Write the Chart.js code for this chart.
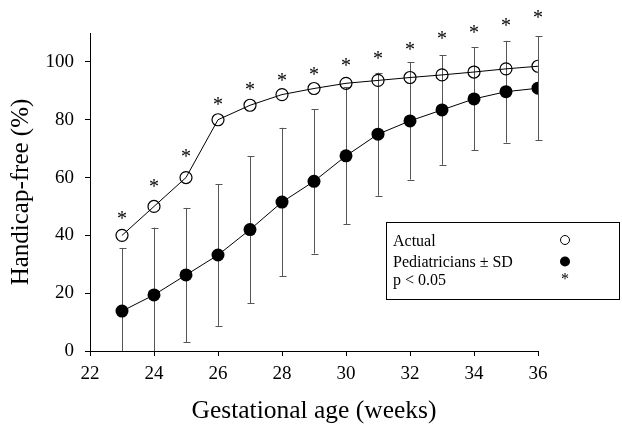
<!DOCTYPE html>
<html>
<head>
<meta charset="utf-8">
<script src="https://cdn.jsdelivr.net/npm/chart.js@4"></script>
<style>
  html, body { margin: 0; padding: 0; background: #fff; }
  #wrap { width: 622px; height: 424px; }
</style>
</head>
<body>
<div id="wrap"><canvas id="myChart"></canvas></div>
<script>
const weeks = [23, 24, 25, 26, 27, 28, 29, 30, 31, 32, 33, 34, 35, 36];
const actual = [40, 50, 60, 80, 85, 88.7, 90.8, 92.6, 93.6, 94.6, 95.5, 96.5, 97.6, 98.5];
const pediatricians = [13.8, 19.4, 26.3, 33.2, 42, 51.5, 58.7, 67.5, 75, 79.6, 83.4, 87.2, 89.7, 90.9];
const pediatriciansSD = [21.7, 23.3, 23.2, 24.5, 25.4, 25.7, 25, 23.7, 21.3, 20.3, 19, 17.8, 17.6, 17.9];
// height of the "*" marks (p < 0.05) above each week
const significance = [47, 58, 68.5, 86.6, 91.7, 94.7, 96.9, 100.1, 102.4, 105.6, 109.3, 111.3, 113.7, 116.4];
const xTicks = [22, 24, 26, 28, 30, 32, 34, 36];
const yTicks = [0, 20, 40, 60, 80, 100];

const serif = "'Liberation Serif', 'Times New Roman', serif";

const errorBars = {
  id: 'errorBars',
  beforeDatasetsDraw(chart) {
    const {ctx, scales: {x, y}} = chart;
    ctx.save();
    ctx.strokeStyle = '#555';
    ctx.lineWidth = 1;
    weeks.forEach((w, i) => {
      const px = Math.round(x.getPixelForValue(w)) + 0.5;
      const hi = y.getPixelForValue(pediatricians[i] + pediatriciansSD[i]);
      const loVal = pediatricians[i] - pediatriciansSD[i];
      const lo = y.getPixelForValue(Math.max(0, loVal));
      ctx.beginPath();
      ctx.moveTo(px, lo);
      ctx.lineTo(px, hi);
      ctx.moveTo(px - 3, Math.round(hi) + 0.5);
      ctx.lineTo(px + 4, Math.round(hi) + 0.5);
      if (loVal > 0) {
        ctx.moveTo(px - 3, Math.round(lo) + 0.5);
        ctx.lineTo(px + 4, Math.round(lo) + 0.5);
      }
      ctx.stroke();
    });
    ctx.restore();
  }
};

// asterisks go above the top of the y axis, so they are drawn here, not as points
const asterisks = {
  id: 'asterisks',
  afterDatasetsDraw(chart) {
    const {ctx, scales: {x, y}} = chart;
    ctx.save();
    ctx.fillStyle = '#000';
    ctx.font = '20px ' + serif;
    ctx.textAlign = 'center';
    ctx.textBaseline = 'alphabetic';
    weeks.forEach((w, i) => {
      ctx.fillText('*', x.getPixelForValue(w), y.getPixelForValue(significance[i]) + 10);
    });
    ctx.restore();
  }
};

const boxLegend = {
  id: 'boxLegend',
  afterDraw(chart) {
    const ctx = chart.ctx;
    ctx.save();
    ctx.fillStyle = '#fff';
    ctx.fillRect(386, 222, 234, 78);
    ctx.strokeStyle = '#000';
    ctx.lineWidth = 1;
    ctx.strokeRect(386.5, 222.5, 233, 77);
    ctx.fillStyle = '#000';
    ctx.font = '16px ' + serif;
    ctx.textAlign = 'left';
    ctx.textBaseline = 'alphabetic';
    ctx.fillText('Actual', 393, 246);
    ctx.fillText('Pediatricians \u00b1 SD', 393, 267);
    ctx.fillText('p < 0.05', 393, 285);
    ctx.beginPath();
    ctx.arc(565, 240, 4.5, 0, Math.PI * 2);
    ctx.stroke();
    ctx.beginPath();
    ctx.arc(565, 261.5, 5, 0, Math.PI * 2);
    ctx.fill();
    ctx.textAlign = 'center';
    ctx.fillText('*', 565, 284);
    ctx.restore();
  }
};

const ctx = document.getElementById('myChart');

new Chart(ctx, {
  type: 'scatter',
  data: {
    datasets: [{
      label: 'Actual',
      data: weeks.map((w, i) => ({x: w, y: actual[i]})),
      showLine: true,
      borderColor: '#000',
      borderWidth: 1,
      pointRadius: 6,
      pointBorderWidth: 1.2,
      pointBorderColor: '#000',
      pointBackgroundColor: 'rgba(0,0,0,0)',
      tension: 0,
    }, {
      label: 'Pediatricians \u00b1 SD',
      data: weeks.map((w, i) => ({x: w, y: pediatricians[i]})),
      showLine: true,
      borderColor: '#000',
      borderWidth: 1,
      pointRadius: 6.5,
      pointBorderWidth: 0,
      pointBackgroundColor: '#000',
      tension: 0,
    }]
  },
  plugins: [errorBars, asterisks, boxLegend],
  options: {
    responsive: true,
    maintainAspectRatio: false,
    animation: false,
    layout: { padding: { top: 33, right: 84, left: 0, bottom: 0 } },
    scales: {
      x: {
        type: 'linear',
        min: 22,
        max: 36,
        afterFit: s => { s.height = 73; },
        afterBuildTicks: s => { s.ticks = xTicks.map(v => ({value: v})); },
        grid: { drawOnChartArea: false, drawTicks: true, tickLength: 5, color: '#000' },
        border: { color: '#000', width: 1 },
        ticks: { color: '#000', padding: 7, font: { family: serif, size: 19 } },
        title: {
          display: true,
          text: 'Gestational age (weeks)',
          color: '#000',
          font: { family: serif, size: 25.5, lineHeight: 1 },
          padding: { top: 0, bottom: 0 },
        },
      },
      y: {
        min: 0,
        max: 110,
        afterFit: s => { s.width = 90; },
        afterBuildTicks: s => { s.ticks = yTicks.map(v => ({value: v})); },
        grid: { drawOnChartArea: false, drawTicks: true, tickLength: 5, color: '#000' },
        border: { color: '#000', width: 1 },
        ticks: { color: '#000', padding: 11, font: { family: serif, size: 19 } },
        title: {
          display: true,
          text: 'Handicap-free (%)',
          color: '#000',
          font: { family: serif, size: 25, lineHeight: 1 },
          padding: { top: 9, bottom: 0 },
        },
      },
    },
    plugins: {
      legend: { display: false },
      tooltip: { enabled: false },
    },
  }
});
</script>
</body>
</html>
